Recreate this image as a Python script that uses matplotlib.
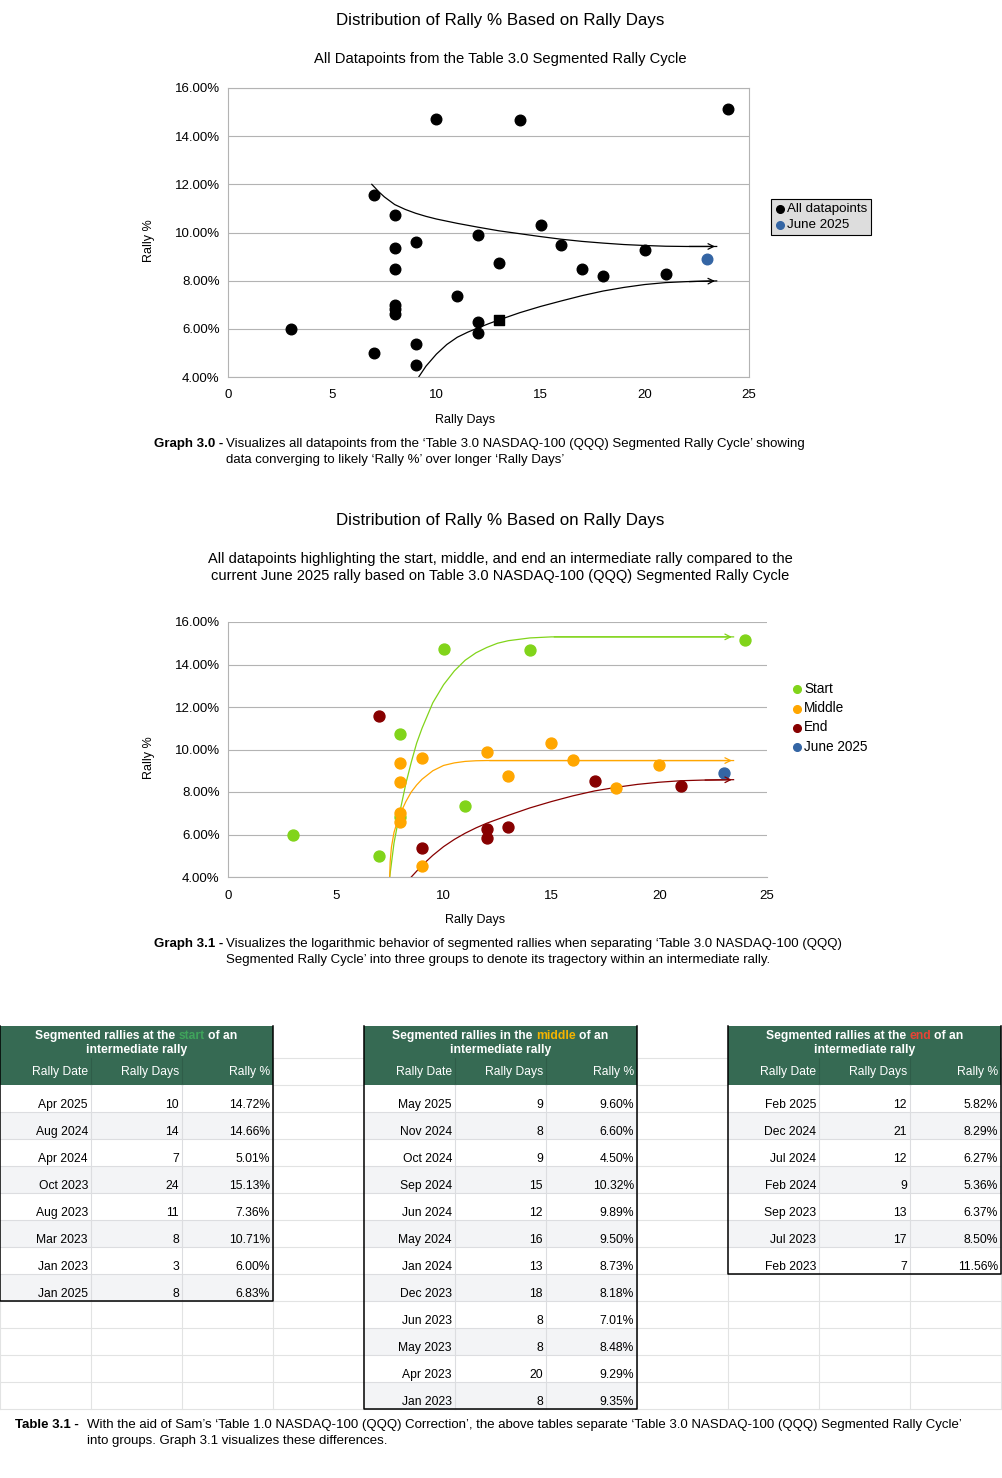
from matplotlib import pyplot as plt
from matplotlib.patches import Rectangle
from matplotlib.ticker import FuncFormatter
import numpy as np

# table data
start_dates = ['Apr 2025', 'Aug 2024', 'Apr 2024', 'Oct 2023', 'Aug 2023', 'Mar 2023', 'Jan 2023', 'Jan 2025']
start_days = [10, 14, 7, 24, 11, 8, 3, 8]
start_pct = [14.72, 14.66, 5.01, 15.13, 7.36, 10.71, 6.00, 6.83]

middle_dates = ['May 2025', 'Nov 2024', 'Oct 2024', 'Sep 2024', 'Jun 2024', 'May 2024', 'Jan 2024',
                'Dec 2023', 'Jun 2023', 'May 2023', 'Apr 2023', 'Jan 2023']
middle_days = [9, 8, 9, 15, 12, 16, 13, 18, 8, 8, 20, 8]
middle_pct = [9.60, 6.60, 4.50, 10.32, 9.89, 9.50, 8.73, 8.18, 7.01, 8.48, 9.29, 9.35]

end_dates = ['Feb 2025', 'Dec 2024', 'Jul 2024', 'Feb 2024', 'Sep 2023', 'Jul 2023', 'Feb 2023']
end_days = [12, 21, 12, 9, 13, 17, 7]
end_pct = [5.82, 8.29, 6.27, 5.36, 6.37, 8.50, 11.56]

june_days = [23]
june_pct = [8.90]

# hand drawn trend curves
upper_x = [6.9, 7.25, 7.5, 8, 8.5, 9, 9.5, 10, 11, 12, 13, 14, 15, 16, 17, 18, 19, 20, 21, 22, 23.5]
upper_y = [12.0, 11.68, 11.48, 11.16, 10.96, 10.8, 10.67, 10.56, 10.38, 10.22, 10.07, 9.95, 9.83,
           9.72, 9.63, 9.56, 9.5, 9.46, 9.43, 9.42, 9.42]
lower_x = [9.15, 9.5, 10, 10.5, 11, 11.5, 12, 12.5, 13, 14, 15, 16, 17, 18, 19, 20, 21, 22, 23.5]
lower_y = [4.0, 4.45, 4.95, 5.35, 5.65, 5.86, 6.04, 6.21, 6.37, 6.67, 6.93, 7.16, 7.38, 7.57,
           7.72, 7.84, 7.92, 7.96, 7.99]

green_x = [7.5, 7.6, 7.7, 7.85, 8.0, 8.25, 8.5, 8.75, 9.0, 9.5, 10, 10.5, 11, 11.5, 12, 12.5, 13, 14, 15, 23.5]
green_y = [4.0, 4.8, 5.6, 6.4, 7.2, 8.4, 9.4, 10.3, 11.0, 12.2, 13.05, 13.7, 14.2, 14.55, 14.8, 15.0,
           15.12, 15.25, 15.3, 15.3]
orange_x = [7.5, 7.52, 7.58, 7.7, 7.85, 8.0, 8.25, 8.5, 8.75, 9.0, 9.5, 10, 10.5, 11, 11.5, 12, 23.5]
orange_y = [4.0, 4.7, 5.4, 6.1, 6.6, 7.0, 7.55, 8.0, 8.33, 8.6, 9.0, 9.25, 9.37, 9.44, 9.47, 9.48, 9.48]
red_x = [8.5, 9, 9.5, 10, 10.5, 11, 11.5, 12, 13, 14, 15, 16, 17, 18, 19, 20, 21, 22, 23.5]
red_y = [4.0, 4.55, 5.02, 5.43, 5.77, 6.06, 6.31, 6.53, 6.9, 7.25, 7.55, 7.82, 8.05, 8.22, 8.36,
         8.46, 8.53, 8.56, 8.58]

GREEN = '#81d41a'
ORANGE = '#ffa600'
RED = '#870000'
BLUE = '#3465a4'
HDR = '#366a53'
GRID = '#b3b3b3'

W, H = 1003, 1478
plt.rcParams['font.family'] = ['Liberation Sans', 'DejaVu Sans']
fig = plt.figure(figsize=(W / 100, H / 100), dpi=100)

# overlay axes in pixel coords for titles, captions and tables
ov = fig.add_axes([0, 0, 1, 1])
ov.set_xlim(0, W)
ov.set_ylim(H, 0)
ov.axis('off')
ov.patch.set_alpha(0)


def px_axes(l, t, r, b):
    return fig.add_axes([l / W, 1 - b / H, (r - l) / W, (b - t) / H])


def pct(v, pos):
    return '%.2f%%' % v


def style(ax):
    ax.set_xlim(0, 25)
    ax.set_ylim(4, 16)
    ax.set_xticks(range(0, 26, 5))
    ax.set_yticks(range(4, 17, 2))
    ax.yaxis.set_major_formatter(FuncFormatter(pct))
    ax.grid(axis='y', color=GRID, lw=0.8)
    ax.set_axisbelow(True)
    ax.tick_params(length=0, labelsize=9.5, pad=6)
    ax.tick_params(axis='x', pad=9)
    for s in ax.spines.values():
        s.set_color(GRID)
        s.set_linewidth(0.8)


def arrow_line(ax, xs, ys, c):
    ax.plot(xs[:-1] + [xs[-1] - 0.05], ys[:-1] + [ys[-1]], color=c, lw=0.9, zorder=2)
    ax.annotate('', xy=(xs[-1], ys[-1]), xytext=(xs[-2], ys[-2]),
                arrowprops=dict(arrowstyle='->', color=c, lw=0.9, mutation_scale=10))


# ---------------- Graph 3.0
ov.text(500, 21, 'Distribution of Rally % Based on Rally Days', ha='center', va='center', fontsize=12.2)
ov.text(500, 59, 'All Datapoints from the Table 3.0 Segmented Rally Cycle', ha='center', va='center', fontsize=10.6)
ax1 = px_axes(228, 88, 749, 377)
style(ax1)
all_days = start_days + middle_days + end_days
all_pct = start_pct + middle_pct + end_pct
circ_d = [d for d, p in zip(all_days, all_pct) if not (d == 13 and p == 6.37)]
circ_p = [p for d, p in zip(all_days, all_pct) if not (d == 13 and p == 6.37)]
h1 = ax1.scatter(circ_d, circ_p, s=58, color='black', zorder=3, label='All datapoints')
ax1.scatter([13], [6.37], s=62, marker='s', color='black', zorder=3)
h2 = ax1.scatter(june_days, june_pct, s=58, color=BLUE, zorder=3, label='June 2025')
arrow_line(ax1, upper_x, upper_y, 'black')
arrow_line(ax1, lower_x, lower_y, 'black')
ov.text(465, 420, 'Rally Days', ha='center', va='center', fontsize=9)
ov.text(149, 241, 'Rally %', ha='center', va='center', fontsize=9, rotation=90)
leg1 = fig.legend(handles=[h1, h2], loc='upper left', bbox_to_anchor=(771 / W, 1 - 199 / H),
                  frameon=True, fontsize=9.6, handletextpad=0.15, handlelength=0.75,
                  borderpad=0.3, labelspacing=0.25, markerscale=0.72, borderaxespad=0)
leg1.get_frame().set_facecolor('#dddddd')
leg1.get_frame().set_edgecolor('black')
leg1.get_frame().set_linewidth(0.8)
leg1.get_frame().set_boxstyle('square', pad=0)
leg1.get_frame().set_alpha(1)

cap = ['Liberation Sans Narrow', 'Liberation Sans', 'DejaVu Sans']
ov.text(154, 444, 'Graph 3.0 -', ha='left', va='center', fontsize=9.5, fontweight='bold', family=cap)
ov.text(226, 444, 'Visualizes all datapoints from the \u2018Table 3.0 NASDAQ-100 (QQQ) Segmented Rally Cycle\u2019 showing',
        ha='left', va='center', fontsize=9.5, family=cap)
ov.text(226, 460, 'data converging to likely \u2018Rally %\u2019 over longer \u2018Rally Days\u2019',
        ha='left', va='center', fontsize=9.5, family=cap)

# ---------------- Graph 3.1
ov.text(500, 521, 'Distribution of Rally % Based on Rally Days', ha='center', va='center', fontsize=12.2)
ov.text(500, 559, 'All datapoints highlighting the start, middle, and end an intermediate rally compared to the',
        ha='center', va='center', fontsize=10.5)
ov.text(500, 576, 'current June 2025 rally based on Table 3.0 NASDAQ-100 (QQQ) Segmented Rally Cycle',
        ha='center', va='center', fontsize=10.5)
ax2 = px_axes(228, 622, 767, 877)
style(ax2)
ax2.spines['top'].set_visible(False)
ax2.spines['right'].set_visible(False)
g1 = ax2.scatter(start_days, start_pct, s=62, color=GREEN, zorder=3, label='Start')
g2 = ax2.scatter(middle_days, middle_pct, s=62, color=ORANGE, zorder=3, label='Middle')
g3 = ax2.scatter(end_days, end_pct, s=62, color=RED, zorder=3, label='End')
g4 = ax2.scatter(june_days, june_pct, s=62, color=BLUE, zorder=3, label='June 2025')
arrow_line(ax2, green_x, green_y, GREEN)
arrow_line(ax2, orange_x, orange_y, ORANGE)
arrow_line(ax2, red_x, red_y, RED)
ov.text(475, 920, 'Rally Days', ha='center', va='center', fontsize=9)
ov.text(149, 758, 'Rally %', ha='center', va='center', fontsize=9, rotation=90)
fig.legend(handles=[g1, g2, g3, g4], loc='upper left', bbox_to_anchor=(792 / W, 1 - 682 / H),
           frameon=False, fontsize=9.8, handletextpad=0.15, handlelength=0.75,
           labelspacing=0.38, markerscale=0.7, borderaxespad=0, borderpad=0)

ov.text(154, 944, 'Graph 3.1 -', ha='left', va='center', fontsize=9.5, fontweight='bold', family=cap)
ov.text(226, 944, 'Visualizes the logarithmic behavior of segmented rallies when separating \u2018Table 3.0 NASDAQ-100 (QQQ)',
        ha='left', va='center', fontsize=9.5, family=cap)
ov.text(226, 960, 'Segmented Rally Cycle\u2019 into three groups to denote its tragectory within an intermediate rally.',
        ha='left', va='center', fontsize=9.5, family=cap)

# ---------------- Tables
COLW = 91
ROWH = 27
TOP = 1026
HROW = 1058
DROW = 1085
GRID_END = 1409

# background spreadsheet grid
for k in range(14):
    y = HROW + ROWH * k
    if y <= GRID_END:
        ov.plot([0, W], [y, y], color='#e2e3e3', lw=0.8, zorder=0)
for k in range(12):
    ov.plot([COLW * k, COLW * k], [HROW, GRID_END], color='#e2e3e3', lw=0.8, zorder=0)

renderer = fig.canvas.get_renderer()


def text_w(s, **kw):
    t = ov.text(0, 0, s, **kw)
    w = t.get_window_extent(renderer).width
    t.remove()
    return w


def rich_center(xc, y, pre, word, post, wcolor):
    kw = dict(fontsize=8.7, fontweight='bold')
    full = pre + word + post
    total = text_w(full, **kw)
    bar = text_w('|', **kw)
    left = xc - total / 2
    ov.text(left, y, pre.rstrip(), color='white', ha='left', va='center', zorder=5, **kw)
    x2 = left + text_w(pre + '|', **kw) - bar
    ov.text(x2, y, word, color=wcolor, ha='left', va='center', zorder=5, **kw)
    x3 = left + text_w(pre + word + ' |', **kw) - bar
    ov.text(x3, y, post.strip(), color='white', ha='left', va='center', zorder=5, **kw)


def draw_table(x0, word, wcolor, pre, dates, days, pcts):
    n = len(dates)
    x1 = x0 + 3 * COLW
    bottom = DROW + ROWH * n
    ov.add_patch(Rectangle((x0, TOP), 3 * COLW, DROW - TOP, facecolor=HDR, edgecolor='none', zorder=3))
    for i in range(n):
        fc = 'white' if i % 2 == 0 else '#f3f4f6'
        ov.add_patch(Rectangle((x0, DROW + ROWH * i), 3 * COLW, ROWH, facecolor=fc, edgecolor='none', zorder=3))
        if i > 0:
            ov.plot([x0, x1], [DROW + ROWH * i] * 2, color='#dcdde0', lw=0.8, zorder=4)
    for c in range(1, 3):
        ov.plot([x0 + COLW * c] * 2, [HROW, DROW], color='#2f5d49', lw=0.8, zorder=4)
        ov.plot([x0 + COLW * c] * 2, [DROW, bottom], color='#dcdde0', lw=0.8, zorder=4)
    ov.plot([x0, x0, x1, x1], [TOP, bottom, bottom, TOP], color='black', lw=1.1, zorder=6)
    rich_center(x0 + 1.5 * COLW, 1036, pre, word, ' of an', wcolor)
    ov.text(x0 + 1.5 * COLW, 1050, 'intermediate rally', color='white', ha='center', va='center',
            fontsize=8.7, fontweight='bold', zorder=5)
    for c, lab in enumerate(['Rally Date', 'Rally Days', 'Rally %']):
        ov.text(x0 + COLW * (c + 1) - 3, 1072, lab, color='white', ha='right', va='center',
                fontsize=8.7, zorder=5)
    for i in range(n):
        y = DROW + ROWH * i + 20
        ov.text(x0 + COLW - 3, y, dates[i], ha='right', va='center', fontsize=8.7, zorder=5)
        ov.text(x0 + 2 * COLW - 3, y, str(days[i]), ha='right', va='center', fontsize=8.7, zorder=5)
        ov.text(x0 + 3 * COLW - 3, y, '%.2f%%' % pcts[i], ha='right', va='center', fontsize=8.7, zorder=5)


draw_table(0, 'start', '#3fa45b', 'Segmented rallies at the ', start_dates, start_days, start_pct)
draw_table(364, 'middle', '#f5b400', 'Segmented rallies in the ', middle_dates, middle_days, middle_pct)
draw_table(728, 'end', '#ea4335', 'Segmented rallies at the ', end_dates, end_days, end_pct)

ov.text(15, 1425, 'Table 3.1 -', ha='left', va='center', fontsize=9.5, fontweight='bold', family=cap)
ov.text(87, 1425, 'With the aid of Sam\u2019s \u2018Table 1.0 NASDAQ-100 (QQQ) Correction\u2019, the above tables separate '
        '\u2018Table 3.0 NASDAQ-100 (QQQ) Segmented Rally Cycle\u2019', ha='left', va='center', fontsize=9.5, family=cap)
ov.text(87, 1441, 'into groups. Graph 3.1 visualizes these differences.', ha='left', va='center',
        fontsize=9.5, family=cap)

fig.savefig('out.png', dpi=100)
